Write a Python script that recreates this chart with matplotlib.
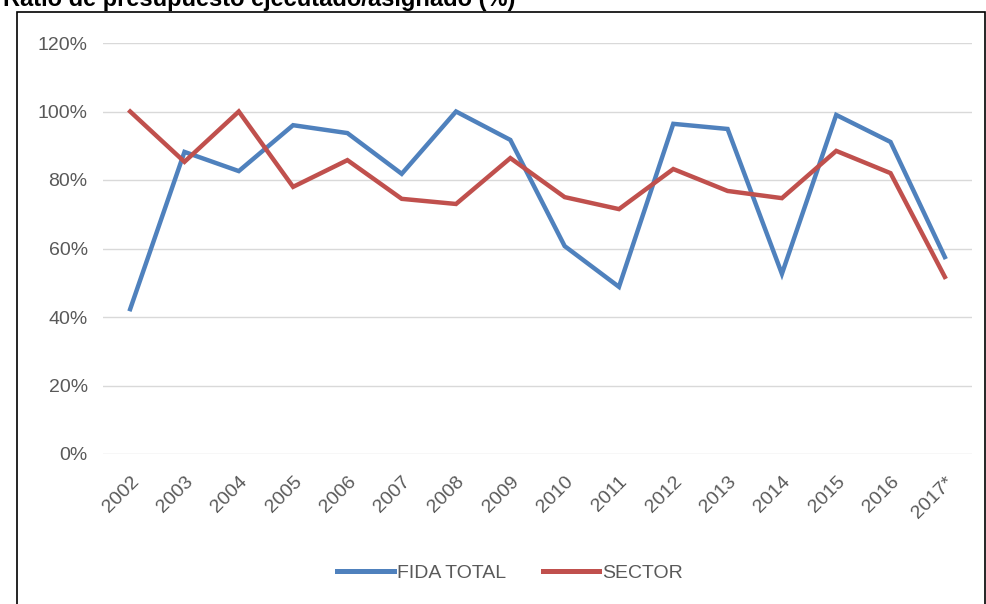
import matplotlib.pyplot as plt
from matplotlib.patches import Rectangle
from matplotlib.ticker import PercentFormatter

years = ["2002", "2003", "2004", "2005", "2006", "2007", "2008", "2009",
         "2010", "2011", "2012", "2013", "2014", "2015", "2016", "2017*"]
fida_total = [42.3, 88.2, 82.6, 96.0, 93.7, 81.8, 100.0, 91.7,
              60.7, 48.8, 96.4, 94.9, 52.6, 99.0, 91.1, 57.5]
sector = [100.0, 85.3, 100.0, 78.0, 85.8, 74.5, 73.0, 86.4,
          75.0, 71.5, 83.2, 76.8, 74.7, 88.5, 82.0, 51.7]

plt.rcParams['font.family'] = ['Liberation Sans', 'DejaVu Sans']
grey = '#595959'

fig = plt.figure(figsize=(9.87, 6.04), dpi=100)
ax = fig.add_axes([103 / 987, 1 - 454 / 604, 869 / 987, 411 / 604])

x = list(range(len(years)))
ax.plot(x, fida_total, color='#4F81BD', lw=3.2, label='FIDA TOTAL', solid_joinstyle='miter')
ax.plot(x, sector, color='#C0504D', lw=3.2, label='SECTOR', solid_joinstyle='miter')

ax.set_xlim(-0.5, len(years) - 0.5)
ax.set_ylim(0, 120)
ax.set_yticks(range(0, 121, 20))
ax.yaxis.set_major_formatter(PercentFormatter(decimals=0))
ax.set_xticks(x)
ax.set_xticklabels(years, rotation=45, ha='right', rotation_mode='anchor')
ax.tick_params(axis='both', length=0, colors=grey, labelsize=14)
ax.tick_params(axis='y', pad=11)
ax.tick_params(axis='x', pad=14)
ax.grid(axis='y', color='#D9D9D9', lw=1)
ax.set_axisbelow(True)
for s in ax.spines.values():
    s.set_visible(False)

leg = fig.legend(loc='center', bbox_to_anchor=(510 / 987, 1 - 573 / 604), ncol=2, frameon=False,
                 fontsize=14, handlelength=2.9, handletextpad=0.15, columnspacing=1.9)
for t in leg.get_texts():
    t.set_color(grey)
for h in leg.get_lines():
    h.set_linewidth(3.6)

# outer frame (only partly visible, like the cropped source)
fig.patches.append(Rectangle((17 / 987, -0.05), 968 / 987, 1.05 - 12 / 604, transform=fig.transFigure,
                             fill=False, edgecolor='black', lw=1.2, clip_on=False))
fig.text(3 / 987, 1 - 6 / 604, 'Ratio de presupuesto ejecutado/asignado (%)', fontsize=17,
         fontweight='bold', va='baseline', ha='left')

fig.savefig('out.png', dpi=100)
